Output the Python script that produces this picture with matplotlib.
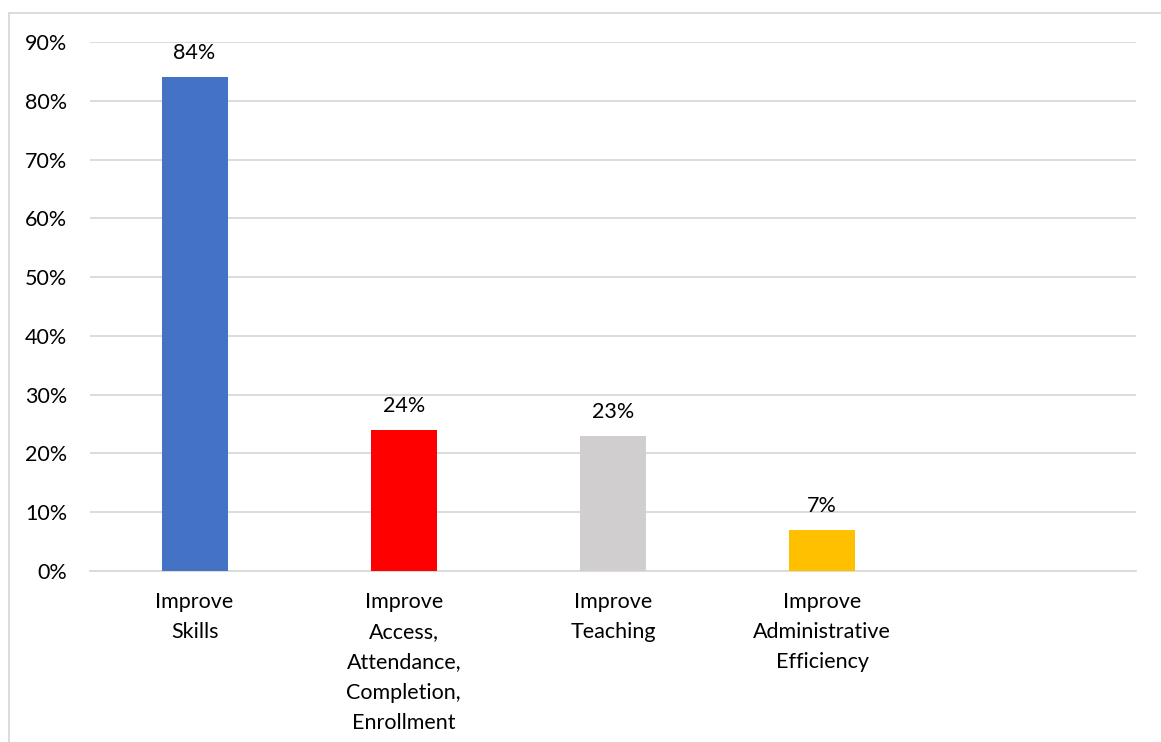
import matplotlib.pyplot as plt
from matplotlib.patches import Rectangle

# chart data
categories = [
    "Improve\nSkills",
    "Improve\nAccess,\nAttendance,\nCompletion,\nEnrollment",
    "Improve\nTeaching",
    "Improve\nAdministrative\nEfficiency",
    "",
]
values = [84, 24, 23, 7, None]
bar_colors = ["#4472C4", "#FF0000", "#D0CECE", "#FFC000", "#FFFFFF"]

plt.rcParams["font.family"] = ["Lato", "DejaVu Sans"]
fs = 15.5

fig = plt.figure(figsize=(11.61, 7.42), dpi=100)
ax = fig.add_axes([0.0775, 0.2305, 0.9010, 0.7129])

# outer chart border (only left and top visible in the crop)
fig.patches.append(Rectangle((9 / 1161, -0.1), 1.2, 1 - 12.5 / 742 + 0.1,
                             transform=fig.transFigure, fill=False,
                             edgecolor="#D9D9D9", linewidth=1.3))

xs = list(range(len(categories)))
heights = [v if v is not None else 0 for v in values]
bars = ax.bar(xs, heights, width=0.315, color=bar_colors, zorder=3)

for x, v in zip(xs, values):
    if v is None:
        continue
    ax.annotate(f"{v}%", (x, v), xytext=(0, 10), textcoords="offset points",
                ha="center", va="bottom", fontsize=fs, color="#000000")

ax.set_xlim(-0.5, len(categories) - 0.5)
ax.set_ylim(0, 90)
ax.set_yticks(range(0, 91, 10))
ax.set_yticklabels([f"{t}%" for t in range(0, 91, 10)])
ax.set_xticks(xs)
ax.set_xticklabels(categories, linespacing=1.64)

ax.grid(axis="y", color="#D9D9D9", linewidth=1.3, zorder=0)
for s in ["top", "right", "left"]:
    ax.spines[s].set_visible(False)
ax.spines["bottom"].set_color("#D9D9D9")
ax.spines["bottom"].set_linewidth(1.3)
ax.tick_params(axis="both", length=0, labelsize=fs, colors="#000000")
ax.tick_params(axis="y", pad=16.5)
ax.tick_params(axis="x", pad=15)

fig.savefig("out.png", dpi=100)
